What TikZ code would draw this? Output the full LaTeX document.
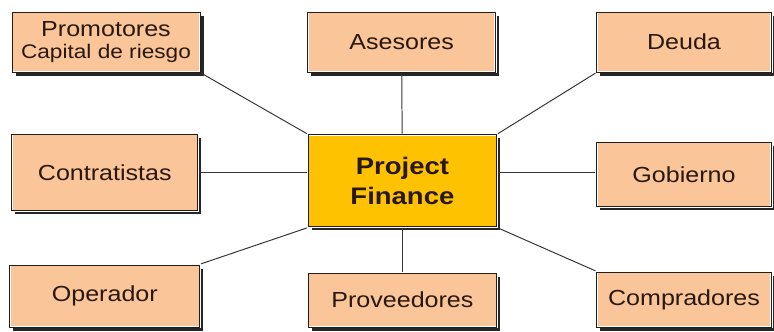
\documentclass[tikz,border=0pt]{standalone}
\usepackage{fontspec}
\setmainfont{Liberation Sans}[FakeStretch=1.15]
\usetikzlibrary{shadows,positioning}

\definecolor{peach}{RGB}{250,197,152}
\definecolor{gold}{RGB}{255,194,0}
\definecolor{ink}{RGB}{40,24,16}
\definecolor{edge}{RGB}{35,30,25}

\begin{document}
\begin{tikzpicture}[
    link/.style={draw=edge!90, line width=0.7pt},
    party/.style={rectangle, fill=peach, draw=white, line width=1.6pt, postaction={draw=edge, line width=0.7pt}, drop shadow={shadow xshift=2.6pt, shadow yshift=-2.6pt, fill=black!85, opacity=1}, text=ink, align=center, inner sep=0pt, minimum width=4.7cm, minimum height=1.5cm, font=\fontsize{15.5}{16}\selectfont},
    core/.style={party, fill=gold, minimum width=4.72cm, minimum height=2.3cm, font=\fontsize{17}{21}\selectfont\bfseries}
]
\useasboundingbox (0,0) rectangle (19.35,-8.275);

% Centre
\node[core] (pf) at (10.06, -4.52) {Project\\Finance};

% Top row
\node[party] (promo) at (2.65, -1.05) {Promotores\\[-1pt]{\fontsize{14}{15}\selectfont Capital de riesgo}};
\node[party] (ases) at (10.04, -1.05) {Asesores};
\node[party, minimum width=4.37cm] (deuda) at (17.1, -1.05) {Deuda};

% Middle row
\node[party, minimum width=4.65cm, minimum height=1.92cm] (contr) at (2.62, -4.31) {Contratistas};
\node[party, minimum width=4.37cm, minimum height=1.62cm] (gob) at (17.1, -4.36) {Gobierno};

% Bottom row
\node[party, minimum width=4.75cm, minimum height=1.55cm] (oper) at (2.62, -7.4) {Operador};
\node[party, minimum width=4.72cm, minimum height=1.35cm] (prov) at (10.06, -7.5) {Proveedores};
\node[party, minimum width=4.37cm, minimum height=1.38cm] (compr) at (17.1, -7.49) {Compradores};

% Spokes
\draw[link] (promo.south east) -- (pf.north west);
\draw[link] (ases) -- (pf);
\draw[link] (deuda.south west) -- (pf.north east);
\draw[link] (contr.east) -- (contr.east -| pf.west);
\draw[link] (gob.west |- contr.east) -- (contr.east -| pf.east);
\draw[link] (oper.north east) -- (pf.south west);
\draw[link] (prov) -- (pf);
\draw[link] (compr.north west) -- (pf.south east);

\end{tikzpicture}
\end{document}
